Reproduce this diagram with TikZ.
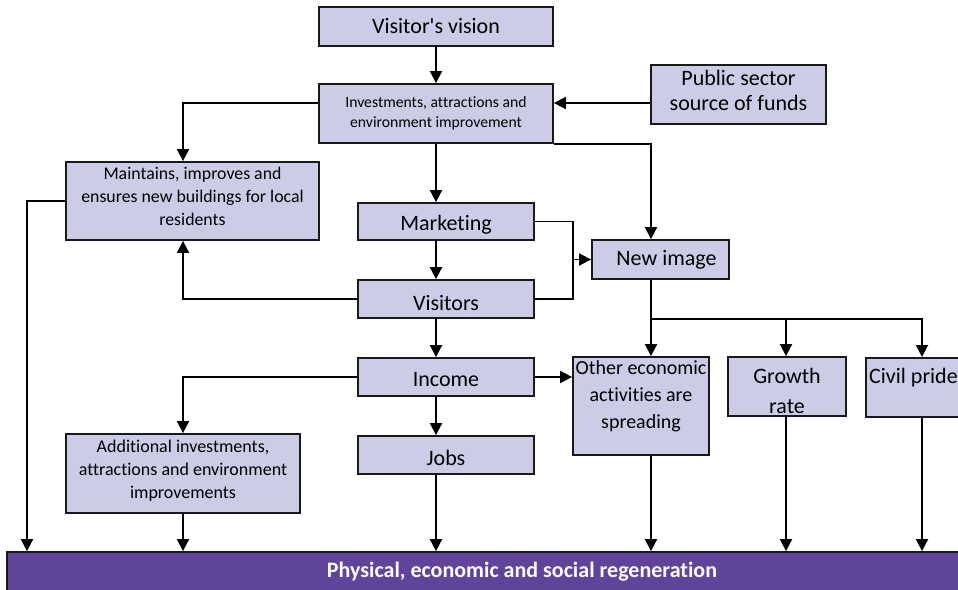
\documentclass[tikz,border=0pt]{standalone}
\usepackage{fontspec}
\setmainfont{Carlito}[Ligatures={NoCommon}]
\usetikzlibrary{arrows.meta}
\definecolor{boxfill}{RGB}{204,204,230}
\definecolor{barfill}{RGB}{96,67,154}
\definecolor{edge}{RGB}{25,25,25}
\begin{document}
\begin{tikzpicture}[x=1pt,y=-1pt,
  box/.style={draw=edge, line width=1.8pt, fill=boxfill, inner sep=0pt, align=center, text=black},
  tl/.style={inner sep=0pt, align=center, text=black},
  big/.style={font=\fontsize{22}{26}\selectfont},
  arr/.style={line width=1.8pt, draw=black, -{Triangle[length=12pt,width=12pt]}},
  ln/.style={line width=1.8pt, draw=black}]
\clip (0,0) rectangle (958,589);
\fill[white] (0,0) rectangle (958,589);

% boxes
\node[box, big, minimum width=234pt, minimum height=39pt] (vv) at (436,26.5) {Visitor\textquotesingle s vision};
\node[box, minimum width=234pt, minimum height=59pt, font=\fontsize{15.7}{20}\selectfont] (inv) at (436,113.5) {Investments, attractions and\\environment improvement};
\node[box, minimum width=175pt, minimum height=59pt,
  label={[tl, font=\fontsize{22}{25}\selectfont, yshift=4pt]center:{Public sector\\source of funds}}] (pub) at (738.5,94.5) {};
\node[box, minimum width=253pt, minimum height=78pt,
  label={[tl, font=\fontsize{17.8}{23}\selectfont, yshift=5pt]center:{Maintains, improves and\\ensures new buildings for local\\residents}}] (maint) at (192.5,201) {};
\node[box, minimum width=176pt, minimum height=37pt,
  label={[tl, big, yshift=-3.5pt]center:{Marketing}}] (mkt) at (446,221.5) {};
\node[box, big, minimum width=137pt, minimum height=39pt] (img) at (660.5,259.5) {\hspace*{12pt}New image};
\node[box, minimum width=176pt, minimum height=38pt,
  label={[tl, big, yshift=-4pt]center:{Visitors}}] (vis) at (446,299) {};
\node[box, minimum width=176pt, minimum height=38pt,
  label={[tl, big, yshift=-3pt]center:{Income}}] (inc) at (446,377) {};
\node[box, minimum width=136pt, minimum height=98pt,
  label={[tl, font=\fontsize{20}{27}\selectfont, anchor=north, yshift=-4pt]north:{Other economic\\activities are\\spreading}}] (oth) at (641,406) {};
\node[box, minimum width=118pt, minimum height=59pt,
  label={[tl, font=\fontsize{22}{30}\selectfont, yshift=-4pt]center:{Growth\\rate}}] (gro) at (787,386.5) {};
\node[box, minimum width=125pt, minimum height=59pt, anchor=north west,
  label={[tl, big, anchor=west, xshift=4pt, yshift=10pt]west:{Civil pride}}] (civ) at (865,357) {};
\node[box, minimum width=234pt, minimum height=79pt,
  label={[tl, font=\fontsize{18}{23}\selectfont, yshift=3pt]center:{Additional investments,\\attractions and environment\\improvements}}] (add) at (183,473.5) {};
\node[box, minimum width=176pt, minimum height=38pt,
  label={[tl, big, yshift=-3pt]center:{Jobs}}] (jobs) at (446,455) {};
\node[draw=edge, line width=1.8pt, fill=barfill, minimum width=1030pt, minimum height=40pt, inner sep=0pt, text=white, font=\fontsize{22}{24}\selectfont\bfseries] (bar) at (522,572) {Physical, economic and social regeneration};

% junction points
\coordinate (jn) at (573,259.5);
\coordinate (split) at (651,319);

% connectors
\draw[arr] (vv.south) -- (inv.north);
\draw[arr] (pub.west |- 0,103) -- (inv.east |- 0,103);
\draw[arr] (inv.west |- 0,103) -| (maint.north -| 183,0);
\draw[arr] (inv.south -| 436,0) -- (mkt.north -| 436,0);
\draw[arr] (inv.south east) -| (img.north -| 651,0);
\draw[arr] (mkt.south -| 436,0) -- (vis.north -| 436,0);
\draw[ln] (mkt.east) -| (jn);
\draw[ln] (vis.east) -| (jn);
\draw[arr] (jn) -- (img.west);
\draw[arr] (vis.west) -| (maint.south -| 183,0);
\draw[arr] (vis.south -| 436,0) -- (inc.north -| 436,0);
\draw[arr] (inc.west) -| (add.north);
\draw[arr] (inc.east) -- (oth.west |- inc.east);
\draw[arr] (inc.south -| 436,0) -- (jobs.north -| 436,0);
\draw[ln] (img.south -| split) -- (split);
\draw[arr] (split) -- (oth.north -| split);
\draw[arr] (split) -| (gro.north -| 786,0);
\draw[arr] (split) -| (civ.north -| 922,0);
\draw[arr] (maint.west) -| (bar.north -| 27,0);
\draw[arr] (add.south) -- (bar.north -| add.south);
\draw[arr] (jobs.south -| 436,0) -- (bar.north -| 436,0);
\draw[arr] (oth.south -| split) -- (bar.north -| split);
\draw[arr] (gro.south -| 786,0) -- (bar.north -| 786,0);
\draw[arr] (civ.south -| 922,0) -- (bar.north -| 922,0);
\end{tikzpicture}
\end{document}
